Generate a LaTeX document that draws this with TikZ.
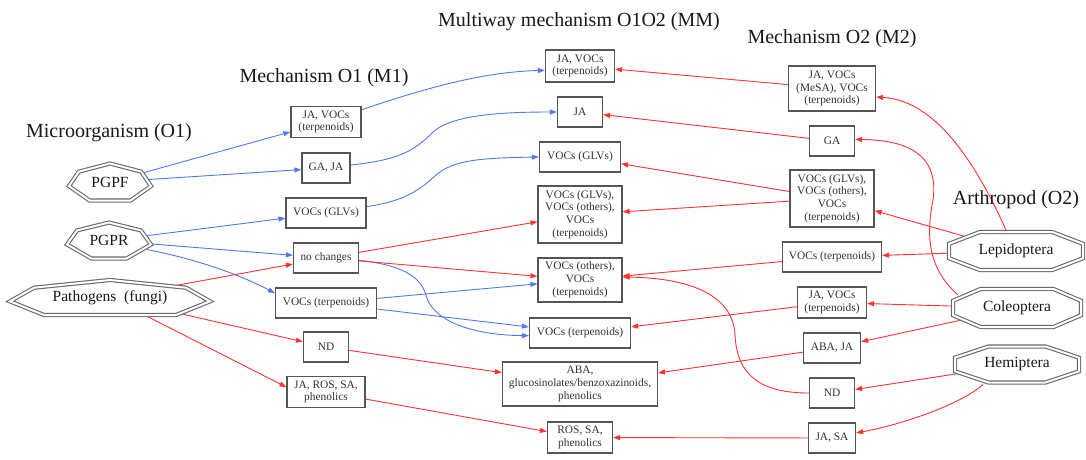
\documentclass[tikz,border=0pt]{standalone}
\usepackage{fontspec}
\setmainfont{Liberation Serif}
\usetikzlibrary{arrows.meta,backgrounds,shapes.geometric}

\definecolor{linkblue}{RGB}{80,120,240}
\definecolor{linkred}{RGB}{255,50,50}
\definecolor{boxgray}{RGB}{85,85,85}
\definecolor{polygray}{RGB}{105,105,105}
\definecolor{labeltext}{RGB}{50,50,50}

\tikzset{
  box/.style={draw=boxgray, line width=1.2pt, fill=white, inner sep=0pt, align=center,
    text=labeltext, font=\fontsize{11.4}{12.8}\selectfont},
  grouptitle/.style={font=\fontsize{20}{22}\selectfont, text=black!90, inner sep=0pt, anchor=base},
  polylabel/.style={shape=ellipse, inner sep=1pt, font=\fontsize{15.5}{17}\selectfont, text=black!90},
  polyborder/.style={draw=polygray, line width=1.1pt, double=white, double distance=2pt,
    fill=white, line join=miter},
  blueedge/.style={draw=linkblue, line width=0.9pt, -{Triangle[length=7pt,width=5pt]}},
  rededge/.style={draw=linkred, line width=0.9pt, -{Triangle[length=7pt,width=5pt]}},
}

% heptagon with double border: name, x, y, half-width, half-height, bottom fraction, label
\newcommand{\heptagonnode}[7]{%
  \begin{scope}[shift={(#2,#3)}]
    \draw[polyborder] (0,{-#5}) -- ({0.76*#4},{-0.56*#5}) -- (#4,{0.22*#5})
      -- ({#6*#4},#5) -- ({-#6*#4},#5) -- ({-#4},{0.22*#5})
      -- ({-0.76*#4},{-0.56*#5}) -- cycle;
  \end{scope}
  \node[polylabel] (#1) at (#2,#3) {#7};}

% octagon with double border: name, x, y, half-width, half-height, top fraction, label
\newcommand{\octagonnode}[7]{%
  \begin{scope}[shift={(#2,#3)}]
    \draw[polyborder] ({-#6*#4},{-#5}) -- ({#6*#4},{-#5}) -- (#4,{-0.38*#5})
      -- (#4,{0.38*#5}) -- ({#6*#4},#5) -- ({-#6*#4},#5)
      -- ({-#4},{0.38*#5}) -- ({-#4},{-0.38*#5}) -- cycle;
  \end{scope}
  \node[polylabel] (#1) at (#2,#3) {#7};}

\begin{document}
\begin{tikzpicture}[x=1pt,y=-1pt]
\useasboundingbox (0,0) rectangle (1086,459);

% group titles
\node[grouptitle] (t1) at (109,137) {Microorganism (O1)};
\node[grouptitle] (t2) at (324,82) {Mechanism O1 (M1)};
\node[grouptitle] (t3) at (579,26) {Multiway mechanism O1O2 (MM)};
\node[grouptitle] (t4) at (832,43.5) {Mechanism O2 (M2)};
\node[grouptitle] (t5) at (1016,204) {Arthropod (O2)};

% organisms
\heptagonnode{pgpf}{110}{182}{41}{18.5}{0.5}{PGPF}
\heptagonnode{pgpr}{109}{240.5}{42}{18}{0.42}{PGPR}
\heptagonnode{patho}{110}{297.5}{100}{17.5}{0.66}{Pathogens\enspace(fungi)}
\octagonnode{lep}{1016}{251}{67}{19}{0.54}{Lepidoptera}
\octagonnode{col}{1017}{308}{64}{19}{0.57}{Coleoptera}
\octagonnode{hem}{1017}{364.5}{62}{18}{0.46}{Hemiptera}

% mechanism O1
\node[box, minimum width=70pt, minimum height=31pt] (m1a) at (326,122) {JA, VOCs\\(terpenoids)};
\node[box, minimum width=48pt, minimum height=30pt] (m1b) at (326,168) {GA, JA};
\node[box, minimum width=80pt, minimum height=30pt] (m1c) at (326,213) {VOCs (GLVs)};
\node[box, minimum width=65pt, minimum height=30pt] (m1d) at (326,258) {no changes};
\node[box, minimum width=101pt, minimum height=30pt] (m1e) at (326,303) {VOCs (terpenoids)};
\node[box, minimum width=45pt, minimum height=30pt] (m1f) at (326,347) {ND};
\node[box, minimum width=78pt, minimum height=31pt] (m1g) at (326,392) {JA, ROS, SA,\\phenolics};

% multiway mechanism
\node[box, minimum width=69pt, minimum height=32pt] (mma) at (580,66) {JA, VOCs\\(terpenoids)};
\node[box, minimum width=45pt, minimum height=30pt] (mmb) at (580,112) {JA};
\node[box, minimum width=81pt, minimum height=30pt] (mmc) at (580,157) {VOCs (GLVs)};
\node[box, minimum width=84pt, minimum height=57pt] (mmd) at (580,214.5) {VOCs (GLVs),\\VOCs (others),\\VOCs\\(terpenoids)};
\node[box, minimum width=84pt, minimum height=44pt] (mme) at (580,280) {VOCs (others),\\VOCs\\(terpenoids)};
\node[box, minimum width=101pt, minimum height=30pt] (mmf) at (580,333) {VOCs (terpenoids)};
\node[box, minimum width=155pt, minimum height=44pt] (mmg) at (580,384) {ABA,\\glucosinolates/benzoxazinoids,\\phenolics};
\node[box, minimum width=65pt, minimum height=31pt] (mmh) at (580,437.5) {ROS, SA,\\phenolics};

% mechanism O2
\node[box, minimum width=87pt, minimum height=45pt] (m2a) at (832,88.5) {JA, VOCs\\(MeSA), VOCs\\(terpenoids)};
\node[box, minimum width=45pt, minimum height=30pt] (m2b) at (832,141) {GA};
\node[box, minimum width=84pt, minimum height=57pt] (m2c) at (832,198.5) {VOCs (GLVs),\\VOCs (others),\\VOCs\\(terpenoids)};
\node[box, minimum width=99pt, minimum height=30pt] (m2d) at (832,257) {VOCs (terpenoids)};
\node[box, minimum width=69pt, minimum height=31pt] (m2e) at (832,302.5) {JA, VOCs\\(terpenoids)};
\node[box, minimum width=57pt, minimum height=30pt] (m2f) at (832,348) {ABA, JA};
\node[box, minimum width=45pt, minimum height=30pt] (m2g) at (832,393) {ND};
\node[box, minimum width=47pt, minimum height=30pt] (m2h) at (832,438) {JA, SA};

\begin{pgfonlayer}{background}
\fill[white] (0,0) rectangle (1086,459);

% beneficial microorganisms
\draw[blueedge] (pgpf) -- (m1a);
\draw[blueedge] (pgpf) -- (m1b);
\draw[blueedge] (pgpr) -- (m1c);
\draw[blueedge] (pgpr) -- (m1d);
\draw[blueedge] ([shift={(38,9)}]pgpr.center) .. controls (200,260) and (240,275) .. (m1e.169);
\draw[blueedge] (m1a.19) .. controls (420,90) and (480,72) .. (mma.187);
\draw[blueedge] (m1b.7) .. controls (400,160) and (415,150) .. (432,133)
  .. controls (450,115) and (500,112) .. (mmb.west);
\draw[blueedge] (m1c.9) .. controls (400,202) and (418,192) .. (435,176)
  .. controls (452,160) and (480,158) .. (mmc.west);
\draw[blueedge] (m1d.-4) .. controls (400,265) and (420,275) .. (426,295)
  .. controls (432,320) and (470,335) .. (mmf.183);
\draw[blueedge] (m1e) -- (mme);
\draw[blueedge] (m1e) -- (mmf);

% pathogens
\draw[rededge] (patho) -- (m1d);
\draw[rededge] (patho) -- (m1f);
\draw[rededge] (patho) -- (m1g.173);
\draw[rededge] (m1d) -- (mmd);
\draw[rededge] (m1d) -- (mme);
\draw[rededge] (m1f) -- (mmg);
\draw[rededge] (m1g) -- (mmh);

% mechanism O2 into the multiway column
\draw[rededge] (m2a) -- (mma);
\draw[rededge] (m2b) -- (mmb);
\draw[rededge] (m2c) -- (mmc);
\draw[rededge] (m2c) -- (mmd);
\draw[rededge] (m2d) -- (mme);
\draw[rededge] (m2e) -- (mmf);
\draw[rededge] (m2f) -- (mmg);
\draw[rededge] (m2g.west) .. controls (760,393) and (737,375) .. (735,335)
  .. controls (733,295) and (690,278) .. (mme.4);
\draw[rededge] (m2h) -- (mmh);

% arthropods
\draw[rededge] ([shift={(-10,-21)}]lep.center) .. controls (970,150) and (930,100) .. (m2a.-11);
\draw[rededge] (lep) -- (m2c);
\draw[rededge] (lep) -- (m2d);
\draw[rededge] ([shift={(-59,-13)}]col.center) .. controls (930,270) and (925,240) .. (933,200)
  .. controls (940,150) and (900,140) .. (m2b.4);
\draw[rededge] (col) -- (m2e);
\draw[rededge] (col) -- (m2f);
\draw[rededge] (hem) -- (m2g);
\draw[rededge] ([shift={(-34,20)}]hem.center) .. controls (960,405) and (900,425) .. (m2h.12);
\end{pgfonlayer}
\end{tikzpicture}
\end{document}
